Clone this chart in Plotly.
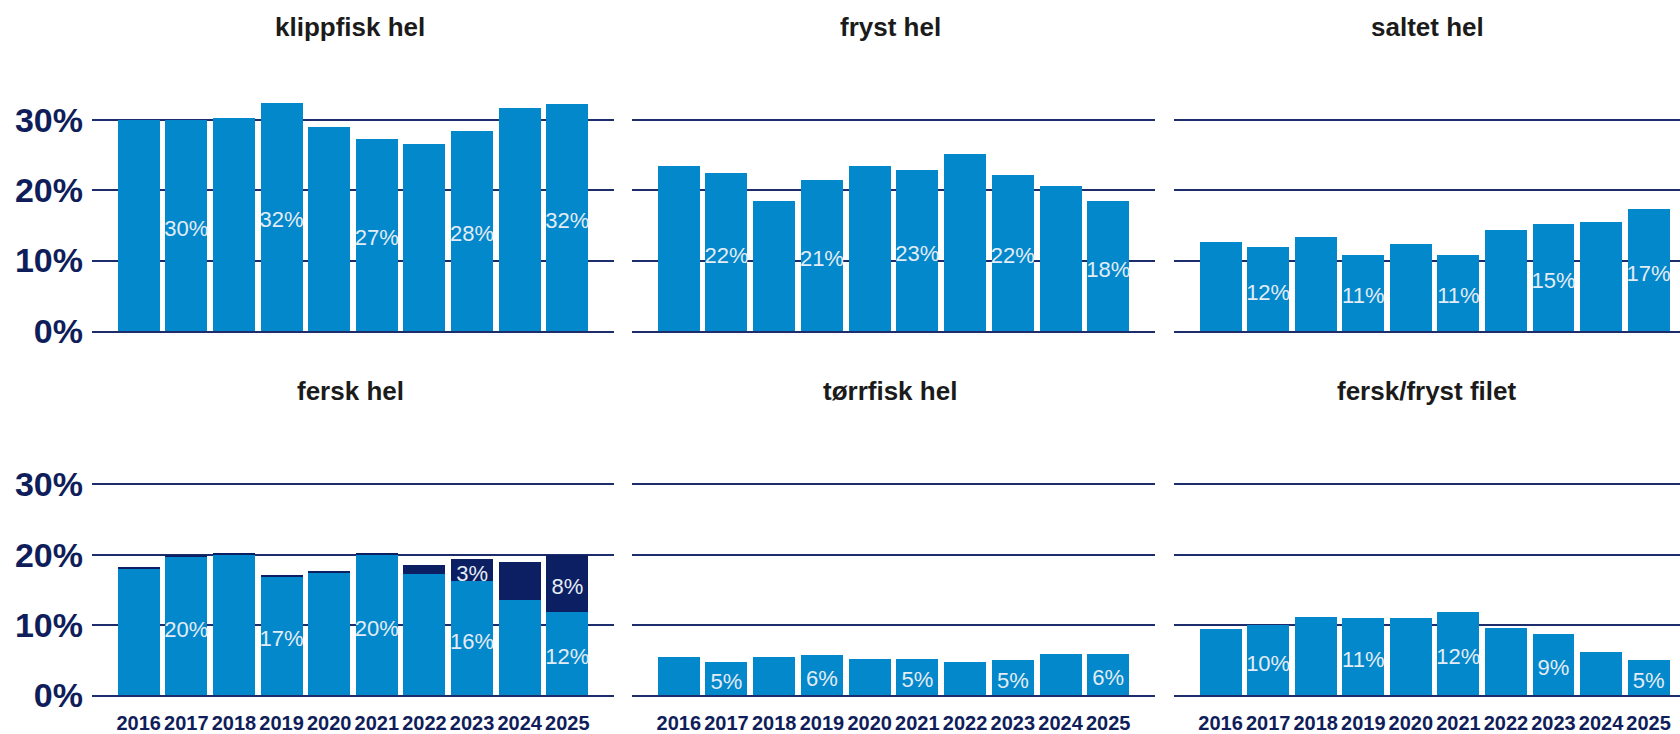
import plotly.graph_objects as go

# Years on the category axis
years = ["2016", "2017", "2018", "2019", "2020", "2021", "2022", "2023", "2024", "2025"]

# Panel titles (row 1 then row 2)
titles = ["klippfisk hel", "fryst hel", "saltet hel",
          "fersk hel", "tørrfisk hel", "fersk/fryst filet"]

# Share of volume per product group
klippfisk_hel = [0.299, 0.300, 0.303, 0.324, 0.290, 0.273, 0.266, 0.284, 0.317, 0.322]
fryst_hel = [0.234, 0.224, 0.184, 0.214, 0.234, 0.229, 0.252, 0.222, 0.206, 0.184]
saltet_hel = [0.127, 0.119, 0.134, 0.108, 0.124, 0.108, 0.143, 0.152, 0.155, 0.173]
fersk_hel = [0.180, 0.196, 0.1995, 0.169, 0.174, 0.1995, 0.173, 0.162, 0.1355, 0.119]
fersk_hel_top = [0.002, 0.004, 0.003, 0.002, 0.0015, 0.003, 0.013, 0.032, 0.0535, 0.081]
torrfisk_hel = [0.054, 0.047, 0.054, 0.057, 0.052, 0.052, 0.047, 0.050, 0.059, 0.059]
filet = [0.094, 0.0995, 0.112, 0.110, 0.110, 0.119, 0.096, 0.087, 0.061, 0.050]

y_ticks = [0, 0.1, 0.2, 0.3]

LIGHT = "#0388CB"
DARK = "#0B1F62"
GRID = "#1D2C6B"
TICK = "#0F1E5A"
LABEL = "#E4ECF5"
FONT = "Liberation Sans, Arial"

W, H = 1680, 734
# pixel boxes of the panels
col_px = [(92, 614), (632, 1155), (1174, 1680)]
row_px = [(91.6, 331.0), (456.2, 695.3)]
title_y = [27, 391]
x_ranges = [[-0.98, 9.98], [-0.98, 9.98], [-0.98, 9.66]]
Y_MAX = 0.34
# value labels sit a few pixels below the segment centre
LABEL_DROP = 0.007

fig = go.Figure()


def label_trace(values, base, axis_id):
    xs, ys, ts = [], [], []
    for i, (v, b) in enumerate(zip(values, base)):
        if i % 2 == 1 and round(v * 100) >= 1:
            xs.append(years[i])
            ys.append(b + v / 2 - LABEL_DROP)
            ts.append(f"{round(v * 100)}%")
    return go.Scatter(
        x=xs, y=ys, text=ts, mode="text", textposition="middle center",
        textfont=dict(family=FONT, size=22, color=LABEL),
        xaxis=f"x{axis_id}", yaxis=f"y{axis_id}", showlegend=False,
        hoverinfo="skip", cliponaxis=True,
    )


panels = [
    [klippfisk_hel], [fryst_hel], [saltet_hel],
    [fersk_hel, fersk_hel_top], [torrfisk_hel], [filet],
]

for p, series in enumerate(panels):
    aid = p + 1
    base = [0.0] * len(years)
    for s_idx, vals in enumerate(series):
        fig.add_trace(go.Bar(
            x=years, y=vals,
            marker=dict(color=LIGHT if s_idx == 0 else DARK, line=dict(width=0)),
            xaxis=f"x{aid}", yaxis=f"y{aid}", showlegend=False, hoverinfo="skip",
        ))
        fig.add_trace(label_trace(vals, base, aid))
        base = [b + v for b, v in zip(base, vals)]

layout = dict(
    width=W, height=H, autosize=False,
    margin=dict(l=0, r=0, t=0, b=0, pad=0),
    paper_bgcolor="white", plot_bgcolor="white",
    barmode="stack", bargap=0.12,
    showlegend=False,
    annotations=[],
)

for p in range(6):
    r, c = divmod(p, 3)
    aid = p + 1
    sfx = "" if aid == 1 else str(aid)
    x0, x1 = col_px[c]
    top, bottom = row_px[r]
    layout[f"xaxis{sfx}"] = dict(
        domain=[x0 / W, x1 / W], anchor=f"y{aid}", type="category",
        range=x_ranges[c], showgrid=False, zeroline=False,
        showline=True, linecolor=GRID, linewidth=2,
        ticks="", showticklabels=(r == 1), tickangle=0, ticklabelstandoff=9,
        tickfont=dict(family=FONT, size=20, color=TICK, weight="bold"),
        automargin=False, fixedrange=True,
    )
    layout[f"yaxis{sfx}"] = dict(
        domain=[1 - bottom / H, 1 - top / H], anchor=f"x{aid}",
        range=[0, Y_MAX], tickvals=y_ticks, tickformat=".0%",
        showgrid=True, gridcolor=GRID, gridwidth=1.6,
        zeroline=False, showline=False, ticks="",
        showticklabels=(c == 0), ticklabelstandoff=8,
        tickfont=dict(family=FONT, size=34, color=TICK, weight="bold"),
        automargin=False, fixedrange=True,
    )
    cx = (x0 + min(x1, x0 + 516)) / 2
    layout["annotations"].append(dict(
        text=titles[p], xref="paper", yref="paper",
        x=cx / W, y=1 - title_y[r] / H, xanchor="center", yanchor="middle",
        showarrow=False,
        font=dict(family=FONT, size=26, color="#1B1B1B", weight="bold"),
    ))

fig.update_layout(**layout)
fig.write_html(
    "out.html",
    config={"displayModeBar": False},
    post_script=(
        "document.documentElement.style.margin='0';"
        "document.body.style.margin='0';"
        "document.documentElement.style.overflow='hidden';"
        "document.body.style.overflow='hidden';"
    ),
)
